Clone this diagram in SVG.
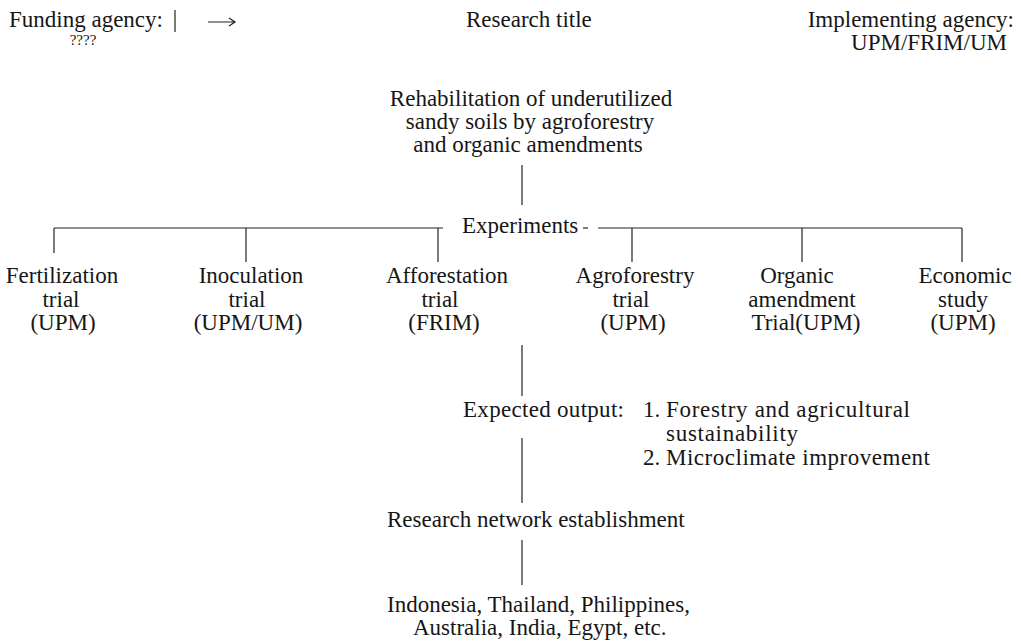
<svg xmlns="http://www.w3.org/2000/svg" width="1021" height="643" viewBox="0 0 1021 643">
<style>
text{font-family:"Liberation Serif","Times New Roman",serif;font-size:23px;fill:#161616}
.c{text-anchor:middle}
.r{text-anchor:end}
.ln{stroke:#222;stroke-width:1.2;fill:none}
</style>
<rect width="1021" height="643" fill="#ffffff"/>
<g id="connectors">
<line class="ln" x1="175" y1="10" x2="175" y2="32"/>
<path class="ln" d="M208 22 H235 M229 18 L235 22 L229 26"/>
<line class="ln" x1="522" y1="165" x2="522" y2="205"/>
<line class="ln" x1="54" y1="228" x2="443" y2="228"/>
<line class="ln" x1="583" y1="228" x2="588" y2="228"/>
<line class="ln" x1="598" y1="228" x2="962" y2="228"/>
<line class="ln" x1="54" y1="228" x2="54" y2="253"/>
<line class="ln" x1="246" y1="228" x2="246" y2="262"/>
<line class="ln" x1="438" y1="228" x2="438" y2="262"/>
<line class="ln" x1="632" y1="228" x2="632" y2="262"/>
<line class="ln" x1="802" y1="228" x2="802" y2="262"/>
<line class="ln" x1="962" y1="228" x2="962" y2="262"/>
<line class="ln" x1="522" y1="345" x2="522" y2="396"/>
<line class="ln" x1="522" y1="438" x2="522" y2="503"/>
<line class="ln" x1="522" y1="540" x2="522" y2="585"/>
</g>
<g id="funding">
<text x="9" y="27">Funding agency:</text>
<text x="83" y="45" class="c" style="font-size:15px">????</text>
</g>
<g id="title"><text x="466" y="27">Research title</text></g>
<g id="implementing">
<text x="1014" y="27" class="r">Implementing agency:</text>
<text x="1007" y="50" class="r">UPM/FRIM/UM</text>
</g>
<g id="rehab">
<text x="531" y="106" class="c">Rehabilitation of underutilized</text>
<text x="530" y="129" class="c">sandy soils by agroforestry</text>
<text x="528" y="152" class="c">and organic amendments</text>
</g>
<g id="experiments"><text x="462" y="233">Experiments</text></g>
<g id="fertilization">
<text x="62" y="283" class="c">Fertilization</text>
<text x="61" y="307" class="c">trial</text>
<text x="63" y="330" class="c">(UPM)</text>
</g>
<g id="inoculation">
<text x="251" y="283" class="c">Inoculation</text>
<text x="247" y="307" class="c">trial</text>
<text x="248" y="330" class="c">(UPM/UM)</text>
</g>
<g id="afforestation">
<text x="447" y="283" class="c">Afforestation</text>
<text x="440" y="307" class="c">trial</text>
<text x="444" y="330" class="c">(FRIM)</text>
</g>
<g id="agroforestry">
<text x="635" y="283" class="c">Agroforestry</text>
<text x="631" y="307" class="c">trial</text>
<text x="633" y="330" class="c">(UPM)</text>
</g>
<g id="organic">
<text x="797" y="283" class="c">Organic</text>
<text x="802" y="307" class="c">amendment</text>
<text x="806" y="330" class="c">Trial(UPM)</text>
</g>
<g id="economic">
<text x="965" y="283" class="c">Economic</text>
<text x="963" y="307" class="c">study</text>
<text x="963" y="330" class="c">(UPM)</text>
</g>
<g id="expected">
<text x="463" y="417" textLength="161">Expected output:</text>
<text x="643" y="417">1.</text>
<text x="666" y="417" textLength="244">Forestry and agricultural</text>
<text x="666" y="441" textLength="132">sustainability</text>
<text x="643" y="465">2.</text>
<text x="666" y="465" textLength="264">Microclimate improvement</text>
</g>
<g id="network"><text x="387" y="527">Research network establishment</text></g>
<g id="countries">
<text x="387" y="612">Indonesia, Thailand, Philippines,</text>
<text x="413" y="635">Australia, India, Egypt, etc.</text>
</g>
</svg>
